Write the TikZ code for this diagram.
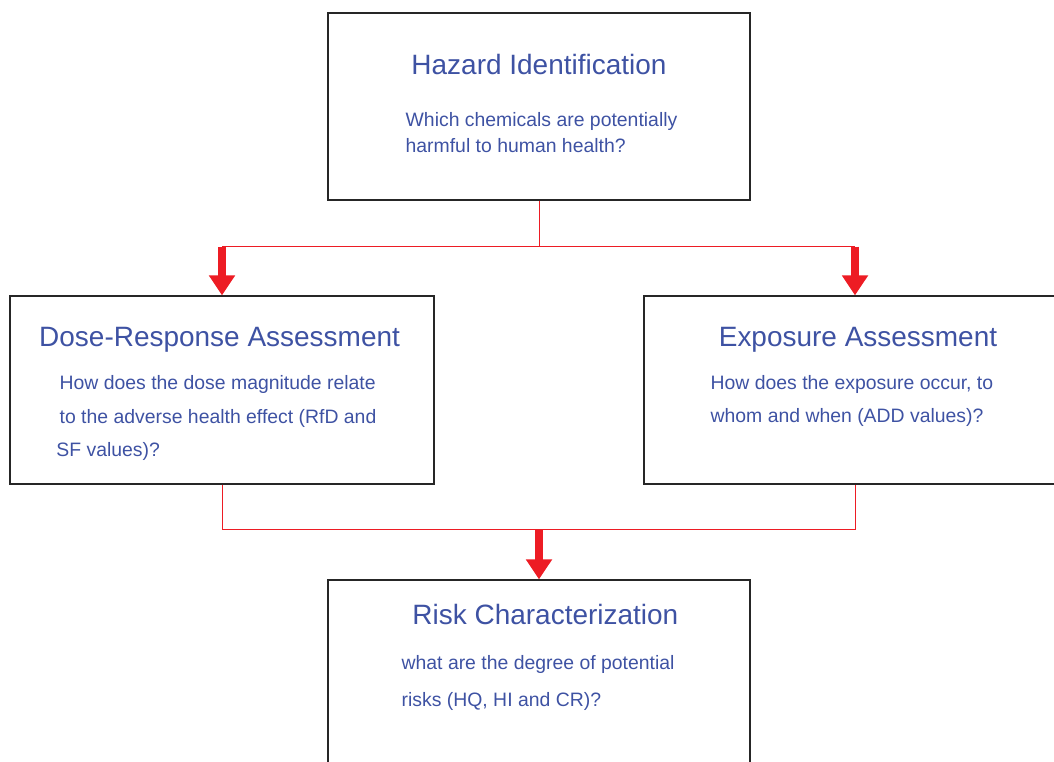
\documentclass[tikz,border=0pt]{standalone}
\usepackage{fontspec}
\setmainfont{Liberation Sans}
\usetikzlibrary{positioning,arrows.meta}

\definecolor{textblue}{RGB}{62,82,163}
\definecolor{arrowred}{RGB}{237,28,36}

\begin{document}
\begin{tikzpicture}[
    stage/.style={draw=black!85, line width=0.9pt, inner sep=0pt,
      minimum width=10.55cm, minimum height=4.675cm},
    heading/.style={text=textblue, inner sep=0pt, anchor=base,
      font=\fontsize{19.9}{24}\selectfont},
    question/.style={text=textblue, inner sep=0pt, anchor=north west, align=left},
    link/.style={draw=arrowred, line width=0.6pt},
    flow/.style={draw=arrowred, line width=6.2pt,
      -{Triangle[width=17.8pt,length=14.2pt]}, arrowred}]
  \path[use as bounding box, clip] (0,0) rectangle (26.35,19.05);

  % the four stages
  \node[stage] (haz) at (13.475,16.3875) {};
  \node[stage, minimum width=10.6cm, minimum height=4.7cm] (dose) at (5.55,9.3) {};
  \node[stage, minimum height=4.7cm] (expo) at (21.375,9.3) {};
  \node[stage] (risk) at (13.475,2.2125) {};

  \node[heading] (hazT) at ([yshift=-1.55cm]haz.north) {Hazard Identification};
  \node[question, font=\fontsize{13.8}{18.5}\selectfont] (hazQ)
    at ([xshift=1.95cm,yshift=-2.5cm]haz.north west)
    {Which chemicals are potentially\\harmful to human health?};

  \node[heading] (doseT) at ([xshift=-0.06cm,yshift=-1.275cm]dose.north) {Dose-Response Assessment};
  \node[question, font=\fontsize{13.8}{23.8}\selectfont] (doseQ)
    at ([xshift=1.25cm,yshift=-2.0cm]dose.north west)
    {How does the dose magnitude relate\\to the adverse health effect (RfD and\\\hspace*{-0.08cm}SF values)?};

  \node[heading] (expoT) at ([xshift=0.075cm,yshift=-1.275cm]expo.north) {Exposure Assessment};
  \node[question, font=\fontsize{13.8}{23.6}\selectfont] (expoQ)
    at ([xshift=1.675cm,yshift=-2.0cm]expo.north west)
    {How does the exposure occur, to\\whom and when (ADD values)?};

  \node[heading] (riskT) at ([xshift=0.16cm,yshift=-1.125cm]risk.north) {Risk Characterization};
  \node[question, font=\fontsize{13.8}{26.3}\selectfont] (riskQ)
    at ([xshift=1.85cm,yshift=-1.9cm]risk.north west)
    {what are the degree of potential\\risks (HQ, HI and CR)?};

  % connectors
  \coordinate[below=1.15cm of haz.south] (hsplit);
  \coordinate[above=1.25cm of risk.north] (rjoin);
  \draw[link] (haz.south) -- (hsplit);
  \draw[link] (dose.north |- hsplit) -- (expo.north |- hsplit);
  \draw[flow] (dose.north |- hsplit) -- (dose.north);
  \draw[flow] (expo.north |- hsplit) -- (expo.north);
  \draw[link] (dose.south) |- (rjoin) -| (expo.south);
  \draw[flow] (rjoin) -- (risk.north);
\end{tikzpicture}
\end{document}
